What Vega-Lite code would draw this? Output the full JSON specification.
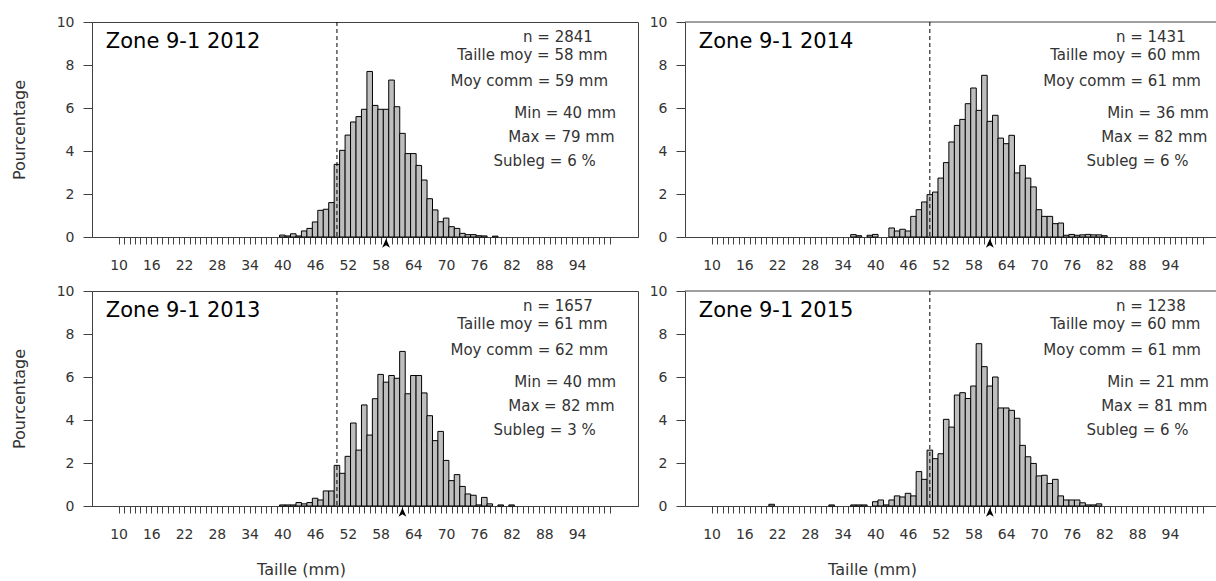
{
  "$schema": "https://vega.github.io/schema/vega-lite/v6.json",
  "padding": {"left": 10, "top": 14, "right": 0, "bottom": 0},
  "background": "white",
  "config": {
    "font": "DejaVu Sans",
    "view": {"stroke": "#404040", "strokeWidth": 1},
    "axis": {"domainColor": "#404040", "tickColor": "#404040", "labelColor": "#333333", "titleColor": "#333333", "labelFontSize": 14, "titleFontSize": 16, "titleFontWeight": "normal", "grid": false, "labelFont": "DejaVu Sans", "titleFont": "DejaVu Sans"},
    "text": {"font": "DejaVu Sans"}
  },
  "datasets": {
    "bars": [
      {"panel": "2012", "size": 40, "pct": 0.09}, {"panel": "2012", "size": 41, "pct": 0.05}, {"panel": "2012", "size": 42, "pct": 0.15}, {"panel": "2012", "size": 43, "pct": 0.05}, {"panel": "2012", "size": 44, "pct": 0.28}, {"panel": "2012", "size": 45, "pct": 0.4}, {"panel": "2012", "size": 46, "pct": 0.7}, {"panel": "2012", "size": 47, "pct": 1.24}, {"panel": "2012", "size": 48, "pct": 1.29}, {"panel": "2012", "size": 49, "pct": 1.6}, {"panel": "2012", "size": 50, "pct": 3.38}, {"panel": "2012", "size": 51, "pct": 4.03}, {"panel": "2012", "size": 52, "pct": 4.74}, {"panel": "2012", "size": 53, "pct": 5.35}, {"panel": "2012", "size": 54, "pct": 5.6}, {"panel": "2012", "size": 55, "pct": 5.94}, {"panel": "2012", "size": 56, "pct": 7.7}, {"panel": "2012", "size": 57, "pct": 6.12}, {"panel": "2012", "size": 58, "pct": 5.94}, {"panel": "2012", "size": 59, "pct": 5.94}, {"panel": "2012", "size": 60, "pct": 7.3}, {"panel": "2012", "size": 61, "pct": 6.06}, {"panel": "2012", "size": 62, "pct": 4.82}, {"panel": "2012", "size": 63, "pct": 3.88}, {"panel": "2012", "size": 64, "pct": 3.88}, {"panel": "2012", "size": 65, "pct": 3.33}, {"panel": "2012", "size": 66, "pct": 2.65}, {"panel": "2012", "size": 67, "pct": 1.78}, {"panel": "2012", "size": 68, "pct": 1.26}, {"panel": "2012", "size": 69, "pct": 0.71}, {"panel": "2012", "size": 70, "pct": 0.88}, {"panel": "2012", "size": 71, "pct": 0.48}, {"panel": "2012", "size": 72, "pct": 0.4}, {"panel": "2012", "size": 73, "pct": 0.17}, {"panel": "2012", "size": 74, "pct": 0.11}, {"panel": "2012", "size": 75, "pct": 0.11}, {"panel": "2012", "size": 76, "pct": 0.06}, {"panel": "2012", "size": 77, "pct": 0.05}, {"panel": "2012", "size": 79, "pct": 0.04},
      {"panel": "2014", "size": 36, "pct": 0.11}, {"panel": "2014", "size": 37, "pct": 0.06}, {"panel": "2014", "size": 39, "pct": 0.08}, {"panel": "2014", "size": 40, "pct": 0.12}, {"panel": "2014", "size": 43, "pct": 0.42}, {"panel": "2014", "size": 44, "pct": 0.28}, {"panel": "2014", "size": 45, "pct": 0.36}, {"panel": "2014", "size": 46, "pct": 0.28}, {"panel": "2014", "size": 47, "pct": 0.96}, {"panel": "2014", "size": 48, "pct": 1.27}, {"panel": "2014", "size": 49, "pct": 1.63}, {"panel": "2014", "size": 50, "pct": 1.97}, {"panel": "2014", "size": 51, "pct": 2.09}, {"panel": "2014", "size": 52, "pct": 2.74}, {"panel": "2014", "size": 53, "pct": 3.46}, {"panel": "2014", "size": 54, "pct": 4.42}, {"panel": "2014", "size": 55, "pct": 5.19}, {"panel": "2014", "size": 56, "pct": 5.47}, {"panel": "2014", "size": 57, "pct": 6.2}, {"panel": "2014", "size": 58, "pct": 6.93}, {"panel": "2014", "size": 59, "pct": 5.89}, {"panel": "2014", "size": 60, "pct": 7.52}, {"panel": "2014", "size": 61, "pct": 5.38}, {"panel": "2014", "size": 62, "pct": 5.66}, {"panel": "2014", "size": 63, "pct": 4.6}, {"panel": "2014", "size": 64, "pct": 4.34}, {"panel": "2014", "size": 65, "pct": 4.73}, {"panel": "2014", "size": 66, "pct": 2.98}, {"panel": "2014", "size": 67, "pct": 3.33}, {"panel": "2014", "size": 68, "pct": 2.74}, {"panel": "2014", "size": 69, "pct": 2.33}, {"panel": "2014", "size": 70, "pct": 1.27}, {"panel": "2014", "size": 71, "pct": 0.96}, {"panel": "2014", "size": 72, "pct": 0.96}, {"panel": "2014", "size": 73, "pct": 0.62}, {"panel": "2014", "size": 74, "pct": 0.65}, {"panel": "2014", "size": 75, "pct": 0.08}, {"panel": "2014", "size": 76, "pct": 0.12}, {"panel": "2014", "size": 77, "pct": 0.08}, {"panel": "2014", "size": 78, "pct": 0.1}, {"panel": "2014", "size": 79, "pct": 0.12}, {"panel": "2014", "size": 80, "pct": 0.1}, {"panel": "2014", "size": 81, "pct": 0.1}, {"panel": "2014", "size": 82, "pct": 0.06},
      {"panel": "2013", "size": 40, "pct": 0.05}, {"panel": "2013", "size": 41, "pct": 0.05}, {"panel": "2013", "size": 42, "pct": 0.05}, {"panel": "2013", "size": 43, "pct": 0.16}, {"panel": "2013", "size": 44, "pct": 0.1}, {"panel": "2013", "size": 45, "pct": 0.16}, {"panel": "2013", "size": 46, "pct": 0.36}, {"panel": "2013", "size": 47, "pct": 0.28}, {"panel": "2013", "size": 48, "pct": 0.7}, {"panel": "2013", "size": 49, "pct": 0.7}, {"panel": "2013", "size": 50, "pct": 1.89}, {"panel": "2013", "size": 51, "pct": 1.52}, {"panel": "2013", "size": 52, "pct": 2.31}, {"panel": "2013", "size": 53, "pct": 3.86}, {"panel": "2013", "size": 54, "pct": 2.6}, {"panel": "2013", "size": 55, "pct": 4.7}, {"panel": "2013", "size": 56, "pct": 3.3}, {"panel": "2013", "size": 57, "pct": 4.99}, {"panel": "2013", "size": 58, "pct": 6.12}, {"panel": "2013", "size": 59, "pct": 5.76}, {"panel": "2013", "size": 60, "pct": 6.07}, {"panel": "2013", "size": 61, "pct": 5.94}, {"panel": "2013", "size": 62, "pct": 7.19}, {"panel": "2013", "size": 63, "pct": 5.22}, {"panel": "2013", "size": 64, "pct": 6.07}, {"panel": "2013", "size": 65, "pct": 6.07}, {"panel": "2013", "size": 66, "pct": 5.26}, {"panel": "2013", "size": 67, "pct": 4.2}, {"panel": "2013", "size": 68, "pct": 3.04}, {"panel": "2013", "size": 69, "pct": 3.47}, {"panel": "2013", "size": 70, "pct": 2.12}, {"panel": "2013", "size": 71, "pct": 1.18}, {"panel": "2013", "size": 72, "pct": 1.46}, {"panel": "2013", "size": 73, "pct": 0.91}, {"panel": "2013", "size": 74, "pct": 0.56}, {"panel": "2013", "size": 75, "pct": 0.5}, {"panel": "2013", "size": 76, "pct": 0.05}, {"panel": "2013", "size": 77, "pct": 0.4}, {"panel": "2013", "size": 78, "pct": 0.1}, {"panel": "2013", "size": 80, "pct": 0.05}, {"panel": "2013", "size": 82, "pct": 0.05},
      {"panel": "2015", "size": 21, "pct": 0.08}, {"panel": "2015", "size": 32, "pct": 0.05}, {"panel": "2015", "size": 36, "pct": 0.05}, {"panel": "2015", "size": 37, "pct": 0.05}, {"panel": "2015", "size": 38, "pct": 0.05}, {"panel": "2015", "size": 40, "pct": 0.2}, {"panel": "2015", "size": 41, "pct": 0.28}, {"panel": "2015", "size": 42, "pct": 0.05}, {"panel": "2015", "size": 43, "pct": 0.28}, {"panel": "2015", "size": 44, "pct": 0.47}, {"panel": "2015", "size": 45, "pct": 0.42}, {"panel": "2015", "size": 46, "pct": 0.59}, {"panel": "2015", "size": 47, "pct": 0.47}, {"panel": "2015", "size": 48, "pct": 1.6}, {"panel": "2015", "size": 49, "pct": 1.24}, {"panel": "2015", "size": 50, "pct": 2.6}, {"panel": "2015", "size": 51, "pct": 2.2}, {"panel": "2015", "size": 52, "pct": 2.43}, {"panel": "2015", "size": 53, "pct": 4.03}, {"panel": "2015", "size": 54, "pct": 3.67}, {"panel": "2015", "size": 55, "pct": 5.16}, {"panel": "2015", "size": 56, "pct": 5.27}, {"panel": "2015", "size": 57, "pct": 5.0}, {"panel": "2015", "size": 58, "pct": 5.58}, {"panel": "2015", "size": 59, "pct": 7.55}, {"panel": "2015", "size": 60, "pct": 6.48}, {"panel": "2015", "size": 61, "pct": 5.58}, {"panel": "2015", "size": 62, "pct": 6.0}, {"panel": "2015", "size": 63, "pct": 4.56}, {"panel": "2015", "size": 64, "pct": 4.56}, {"panel": "2015", "size": 65, "pct": 4.45}, {"panel": "2015", "size": 66, "pct": 4.08}, {"panel": "2015", "size": 67, "pct": 2.82}, {"panel": "2015", "size": 68, "pct": 2.29}, {"panel": "2015", "size": 69, "pct": 1.98}, {"panel": "2015", "size": 70, "pct": 1.4}, {"panel": "2015", "size": 71, "pct": 1.43}, {"panel": "2015", "size": 72, "pct": 1.05}, {"panel": "2015", "size": 73, "pct": 1.24}, {"panel": "2015", "size": 74, "pct": 0.47}, {"panel": "2015", "size": 75, "pct": 0.28}, {"panel": "2015", "size": 76, "pct": 0.28}, {"panel": "2015", "size": 77, "pct": 0.28}, {"panel": "2015", "size": 78, "pct": 0.15}, {"panel": "2015", "size": 79, "pct": 0.05}, {"panel": "2015", "size": 80, "pct": 0.05}, {"panel": "2015", "size": 81, "pct": 0.1}
    ],
    "stats": [
      {"panel": "2012", "stat": "zone", "label": "Zone 9-1 2012"}, {"panel": "2012", "stat": "n", "label": "n = 2841"}, {"panel": "2012", "stat": "taille", "label": "Taille moy = 58 mm"}, {"panel": "2012", "stat": "moy", "label": "Moy comm = 59 mm"}, {"panel": "2012", "stat": "min", "label": "Min = 40 mm"}, {"panel": "2012", "stat": "max", "label": "Max = 79 mm"}, {"panel": "2012", "stat": "subleg", "label": "Subleg = 6 %"},
      {"panel": "2014", "stat": "zone", "label": "Zone 9-1 2014"}, {"panel": "2014", "stat": "n", "label": "n = 1431"}, {"panel": "2014", "stat": "taille", "label": "Taille moy = 60 mm"}, {"panel": "2014", "stat": "moy", "label": "Moy comm = 61 mm"}, {"panel": "2014", "stat": "min", "label": "Min = 36 mm"}, {"panel": "2014", "stat": "max", "label": "Max = 82 mm"}, {"panel": "2014", "stat": "subleg", "label": "Subleg = 6 %"},
      {"panel": "2013", "stat": "zone", "label": "Zone 9-1 2013"}, {"panel": "2013", "stat": "n", "label": "n = 1657"}, {"panel": "2013", "stat": "taille", "label": "Taille moy = 61 mm"}, {"panel": "2013", "stat": "moy", "label": "Moy comm = 62 mm"}, {"panel": "2013", "stat": "min", "label": "Min = 40 mm"}, {"panel": "2013", "stat": "max", "label": "Max = 82 mm"}, {"panel": "2013", "stat": "subleg", "label": "Subleg = 3 %"},
      {"panel": "2015", "stat": "zone", "label": "Zone 9-1 2015"}, {"panel": "2015", "stat": "n", "label": "n = 1238"}, {"panel": "2015", "stat": "taille", "label": "Taille moy = 60 mm"}, {"panel": "2015", "stat": "moy", "label": "Moy comm = 61 mm"}, {"panel": "2015", "stat": "min", "label": "Min = 21 mm"}, {"panel": "2015", "stat": "max", "label": "Max = 81 mm"}, {"panel": "2015", "stat": "subleg", "label": "Subleg = 6 %"}
    ],
    "arrows": [
      {"panel": "2012", "moy_comm": 59, "legal": 50}, {"panel": "2014", "moy_comm": 61, "legal": 50}, {"panel": "2013", "moy_comm": 62, "legal": 50}, {"panel": "2015", "moy_comm": 61, "legal": 50}
    ]
  },
  "columns": 2,
  "spacing": {"row": 10, "column": 10},
  "concat": [
    {
      "width": 546, "height": 215,
      "resolve": {"axis": {"x": "independent", "y": "independent"}},
      "layer": [
        {"data": {"name": "bars"}, "transform": [{"filter": "datum.panel == '2012'"}],
         "mark": {"type": "bar", "width": 5.56, "fill": "#bebebe", "stroke": "#000000", "strokeWidth": 1},
         "encoding": {
           "x": {"field": "size", "type": "quantitative", "scale": {"domain": [6.04, 104.24], "nice": false, "zero": false},
                 "axis": {"title": null, "values": [10,11,12,13,14,15,16,17,18,19,20,21,22,23,24,25,26,27,28,29,30,31,32,33,34,35,36,37,38,39,40,41,42,43,44,45,46,47,48,49,50,51,52,53,54,55,56,57,58,59,60,61,62,63,64,65,66,67,68,69,70,71,72,73,74,75,76,77,78,79,80,81,82,83,84,85,86,87,88,89,90,91,92,93,94,95,96,97,98,99,100], "ticks": true, "tickSize": 7, "labelPadding": 14, "labelOverlap": false, "labelFlush": false, "labelAlign": "center", "labelExpr": "datum.value <= 94 && (datum.value - 10) % 6 == 0 ? datum.label : ''"}},
           "y": {"field": "pct", "type": "quantitative", "scale": {"domain": [0, 10], "nice": false},
                 "axis": {"title": "Pourcentage", "values": [0,2,4,6,8,10], "ticks": true, "tickSize": 9, "labelPadding": 9, "titlePadding": 29}}
         }},
        {"data": {"name": "arrows"}, "transform": [{"filter": "datum.panel == '2012'"}],
         "mark": {"type": "rule", "color": "#000000", "strokeDash": [4, 3], "strokeWidth": 1}, "encoding": {"x": {"field": "legal", "type": "quantitative", "axis": null}}},
        {"data": {"name": "arrows"}, "transform": [{"filter": "datum.panel == '2012'"}],
         "mark": {"type": "point", "shape": "M0,-1L0.75,0.7L0,0.25L-0.75,0.7Z", "filled": true, "color": "#000000", "size": 110, "yOffset": 7, "opacity": 1},
         "encoding": {"x": {"field": "moy_comm", "type": "quantitative", "axis": null}, "y": {"datum": 0, "axis": null}}},
        {"data": {"name": "stats"}, "transform": [{"filter": "datum.panel == '2012' && datum.stat == 'zone'"}], "mark": {"type": "text", "align": "left", "baseline": "alphabetic", "fontSize": 21, "color": "#000000"}, "encoding": {"x": {"datum": 7.66, "axis": null}, "y": {"datum": 8.79, "axis": null}, "text": {"field": "label"}}},
        {"data": {"name": "stats"}, "transform": [{"filter": "datum.panel == '2012' && datum.stat == 'n'"}], "mark": {"type": "text", "align": "left", "baseline": "alphabetic", "fontSize": 15, "color": "#333333"}, "encoding": {"x": {"datum": 84.1, "axis": null}, "y": {"datum": 9.08, "axis": null}, "text": {"field": "label"}}},
        {"data": {"name": "stats"}, "transform": [{"filter": "datum.panel == '2012' && datum.stat == 'taille'"}], "mark": {"type": "text", "align": "left", "baseline": "alphabetic", "fontSize": 15, "color": "#333333"}, "encoding": {"x": {"datum": 72.05, "axis": null}, "y": {"datum": 8.21, "axis": null}, "text": {"field": "label"}}},
        {"data": {"name": "stats"}, "transform": [{"filter": "datum.panel == '2012' && datum.stat == 'moy'"}], "mark": {"type": "text", "align": "left", "baseline": "alphabetic", "fontSize": 15, "color": "#333333"}, "encoding": {"x": {"datum": 70.8, "axis": null}, "y": {"datum": 7.02, "axis": null}, "text": {"field": "label"}}},
        {"data": {"name": "stats"}, "transform": [{"filter": "datum.panel == '2012' && datum.stat == 'min'"}], "mark": {"type": "text", "align": "left", "baseline": "alphabetic", "fontSize": 15, "color": "#333333"}, "encoding": {"x": {"datum": 82.5, "axis": null}, "y": {"datum": 5.54, "axis": null}, "text": {"field": "label"}}},
        {"data": {"name": "stats"}, "transform": [{"filter": "datum.panel == '2012' && datum.stat == 'max'"}], "mark": {"type": "text", "align": "left", "baseline": "alphabetic", "fontSize": 15, "color": "#333333"}, "encoding": {"x": {"datum": 81.4, "axis": null}, "y": {"datum": 4.42, "axis": null}, "text": {"field": "label"}}},
        {"data": {"name": "stats"}, "transform": [{"filter": "datum.panel == '2012' && datum.stat == 'subleg'"}], "mark": {"type": "text", "align": "left", "baseline": "alphabetic", "fontSize": 15, "color": "#333333"}, "encoding": {"x": {"datum": 78.7, "axis": null}, "y": {"datum": 3.29, "axis": null}, "text": {"field": "label"}}}
      ]
    },
    {
      "width": 533, "height": 215,
      "view": {"stroke": null},
      "resolve": {"axis": {"x": "independent", "y": "independent"}},
      "layer": [
        {"data": {"name": "bars"}, "transform": [{"filter": "datum.panel == '2014'"}],
         "mark": {"type": "bar", "width": 5.56, "fill": "#bebebe", "stroke": "#000000", "strokeWidth": 1},
         "encoding": {
           "x": {"field": "size", "type": "quantitative", "scale": {"domain": [6.04, 101.9], "nice": false, "zero": false},
                 "axis": {"title": null, "values": [10,11,12,13,14,15,16,17,18,19,20,21,22,23,24,25,26,27,28,29,30,31,32,33,34,35,36,37,38,39,40,41,42,43,44,45,46,47,48,49,50,51,52,53,54,55,56,57,58,59,60,61,62,63,64,65,66,67,68,69,70,71,72,73,74,75,76,77,78,79,80,81,82,83,84,85,86,87,88,89,90,91,92,93,94,95,96,97,98,99,100], "ticks": true, "tickSize": 7, "labelPadding": 14, "labelOverlap": false, "labelFlush": false, "labelAlign": "center", "labelExpr": "datum.value <= 94 && (datum.value - 10) % 6 == 0 ? datum.label : ''"}},
           "y": {"field": "pct", "type": "quantitative", "scale": {"domain": [0, 10], "nice": false},
                 "axis": {"title": null, "values": [0,2,4,6,8,10], "ticks": true, "tickSize": 9, "labelPadding": 9}}
         }},
        {"data": {"name": "arrows"}, "transform": [{"filter": "datum.panel == '2014'"}],
         "mark": {"type": "rule", "color": "#404040", "strokeWidth": 1}, "encoding": {"y": {"datum": 10, "axis": null}}},
        {"data": {"name": "arrows"}, "transform": [{"filter": "datum.panel == '2014'"}],
         "mark": {"type": "rule", "color": "#000000", "strokeDash": [4, 3], "strokeWidth": 1}, "encoding": {"x": {"field": "legal", "type": "quantitative", "axis": null}}},
        {"data": {"name": "arrows"}, "transform": [{"filter": "datum.panel == '2014'"}],
         "mark": {"type": "point", "shape": "M0,-1L0.75,0.7L0,0.25L-0.75,0.7Z", "filled": true, "color": "#000000", "size": 110, "yOffset": 7, "opacity": 1},
         "encoding": {"x": {"field": "moy_comm", "type": "quantitative", "axis": null}, "y": {"datum": 0, "axis": null}}},
        {"data": {"name": "stats"}, "transform": [{"filter": "datum.panel == '2014' && datum.stat == 'zone'"}], "mark": {"type": "text", "align": "left", "baseline": "alphabetic", "fontSize": 21, "color": "#000000"}, "encoding": {"x": {"datum": 7.66, "axis": null}, "y": {"datum": 8.79, "axis": null}, "text": {"field": "label"}}},
        {"data": {"name": "stats"}, "transform": [{"filter": "datum.panel == '2014' && datum.stat == 'n'"}], "mark": {"type": "text", "align": "left", "baseline": "alphabetic", "fontSize": 15, "color": "#333333"}, "encoding": {"x": {"datum": 84.1, "axis": null}, "y": {"datum": 9.08, "axis": null}, "text": {"field": "label"}}},
        {"data": {"name": "stats"}, "transform": [{"filter": "datum.panel == '2014' && datum.stat == 'taille'"}], "mark": {"type": "text", "align": "left", "baseline": "alphabetic", "fontSize": 15, "color": "#333333"}, "encoding": {"x": {"datum": 72.05, "axis": null}, "y": {"datum": 8.21, "axis": null}, "text": {"field": "label"}}},
        {"data": {"name": "stats"}, "transform": [{"filter": "datum.panel == '2014' && datum.stat == 'moy'"}], "mark": {"type": "text", "align": "left", "baseline": "alphabetic", "fontSize": 15, "color": "#333333"}, "encoding": {"x": {"datum": 70.8, "axis": null}, "y": {"datum": 7.02, "axis": null}, "text": {"field": "label"}}},
        {"data": {"name": "stats"}, "transform": [{"filter": "datum.panel == '2014' && datum.stat == 'min'"}], "mark": {"type": "text", "align": "left", "baseline": "alphabetic", "fontSize": 15, "color": "#333333"}, "encoding": {"x": {"datum": 82.5, "axis": null}, "y": {"datum": 5.54, "axis": null}, "text": {"field": "label"}}},
        {"data": {"name": "stats"}, "transform": [{"filter": "datum.panel == '2014' && datum.stat == 'max'"}], "mark": {"type": "text", "align": "left", "baseline": "alphabetic", "fontSize": 15, "color": "#333333"}, "encoding": {"x": {"datum": 81.4, "axis": null}, "y": {"datum": 4.42, "axis": null}, "text": {"field": "label"}}},
        {"data": {"name": "stats"}, "transform": [{"filter": "datum.panel == '2014' && datum.stat == 'subleg'"}], "mark": {"type": "text", "align": "left", "baseline": "alphabetic", "fontSize": 15, "color": "#333333"}, "encoding": {"x": {"datum": 78.7, "axis": null}, "y": {"datum": 3.29, "axis": null}, "text": {"field": "label"}}}
      ]
    },
    {
      "width": 546, "height": 215,
      "resolve": {"axis": {"x": "independent", "y": "independent"}},
      "layer": [
        {"data": {"name": "bars"}, "transform": [{"filter": "datum.panel == '2013'"}],
         "mark": {"type": "bar", "width": 5.56, "fill": "#bebebe", "stroke": "#000000", "strokeWidth": 1},
         "encoding": {
           "x": {"field": "size", "type": "quantitative", "scale": {"domain": [6.04, 104.24], "nice": false, "zero": false},
                 "axis": {"title": "Taille (mm)", "titleX": 209, "titleAnchor": "middle", "titlePadding": 20, "values": [10,11,12,13,14,15,16,17,18,19,20,21,22,23,24,25,26,27,28,29,30,31,32,33,34,35,36,37,38,39,40,41,42,43,44,45,46,47,48,49,50,51,52,53,54,55,56,57,58,59,60,61,62,63,64,65,66,67,68,69,70,71,72,73,74,75,76,77,78,79,80,81,82,83,84,85,86,87,88,89,90,91,92,93,94,95,96,97,98,99,100], "ticks": true, "tickSize": 7, "labelPadding": 14, "labelOverlap": false, "labelFlush": false, "labelAlign": "center", "labelExpr": "datum.value <= 94 && (datum.value - 10) % 6 == 0 ? datum.label : ''"}},
           "y": {"field": "pct", "type": "quantitative", "scale": {"domain": [0, 10], "nice": false},
                 "axis": {"title": "Pourcentage", "values": [0,2,4,6,8,10], "ticks": true, "tickSize": 9, "labelPadding": 9, "titlePadding": 29}}
         }},
        {"data": {"name": "arrows"}, "transform": [{"filter": "datum.panel == '2013'"}],
         "mark": {"type": "rule", "color": "#000000", "strokeDash": [4, 3], "strokeWidth": 1}, "encoding": {"x": {"field": "legal", "type": "quantitative", "axis": null}}},
        {"data": {"name": "arrows"}, "transform": [{"filter": "datum.panel == '2013'"}],
         "mark": {"type": "point", "shape": "M0,-1L0.75,0.7L0,0.25L-0.75,0.7Z", "filled": true, "color": "#000000", "size": 110, "yOffset": 7, "opacity": 1},
         "encoding": {"x": {"field": "moy_comm", "type": "quantitative", "axis": null}, "y": {"datum": 0, "axis": null}}},
        {"data": {"name": "stats"}, "transform": [{"filter": "datum.panel == '2013' && datum.stat == 'zone'"}], "mark": {"type": "text", "align": "left", "baseline": "alphabetic", "fontSize": 21, "color": "#000000"}, "encoding": {"x": {"datum": 7.66, "axis": null}, "y": {"datum": 8.79, "axis": null}, "text": {"field": "label"}}},
        {"data": {"name": "stats"}, "transform": [{"filter": "datum.panel == '2013' && datum.stat == 'n'"}], "mark": {"type": "text", "align": "left", "baseline": "alphabetic", "fontSize": 15, "color": "#333333"}, "encoding": {"x": {"datum": 84.1, "axis": null}, "y": {"datum": 9.08, "axis": null}, "text": {"field": "label"}}},
        {"data": {"name": "stats"}, "transform": [{"filter": "datum.panel == '2013' && datum.stat == 'taille'"}], "mark": {"type": "text", "align": "left", "baseline": "alphabetic", "fontSize": 15, "color": "#333333"}, "encoding": {"x": {"datum": 72.05, "axis": null}, "y": {"datum": 8.21, "axis": null}, "text": {"field": "label"}}},
        {"data": {"name": "stats"}, "transform": [{"filter": "datum.panel == '2013' && datum.stat == 'moy'"}], "mark": {"type": "text", "align": "left", "baseline": "alphabetic", "fontSize": 15, "color": "#333333"}, "encoding": {"x": {"datum": 70.8, "axis": null}, "y": {"datum": 7.02, "axis": null}, "text": {"field": "label"}}},
        {"data": {"name": "stats"}, "transform": [{"filter": "datum.panel == '2013' && datum.stat == 'min'"}], "mark": {"type": "text", "align": "left", "baseline": "alphabetic", "fontSize": 15, "color": "#333333"}, "encoding": {"x": {"datum": 82.5, "axis": null}, "y": {"datum": 5.54, "axis": null}, "text": {"field": "label"}}},
        {"data": {"name": "stats"}, "transform": [{"filter": "datum.panel == '2013' && datum.stat == 'max'"}], "mark": {"type": "text", "align": "left", "baseline": "alphabetic", "fontSize": 15, "color": "#333333"}, "encoding": {"x": {"datum": 81.4, "axis": null}, "y": {"datum": 4.42, "axis": null}, "text": {"field": "label"}}},
        {"data": {"name": "stats"}, "transform": [{"filter": "datum.panel == '2013' && datum.stat == 'subleg'"}], "mark": {"type": "text", "align": "left", "baseline": "alphabetic", "fontSize": 15, "color": "#333333"}, "encoding": {"x": {"datum": 78.7, "axis": null}, "y": {"datum": 3.29, "axis": null}, "text": {"field": "label"}}}
      ]
    },
    {
      "width": 533, "height": 215,
      "view": {"stroke": null},
      "resolve": {"axis": {"x": "independent", "y": "independent"}},
      "layer": [
        {"data": {"name": "bars"}, "transform": [{"filter": "datum.panel == '2015'"}],
         "mark": {"type": "bar", "width": 5.56, "fill": "#bebebe", "stroke": "#000000", "strokeWidth": 1},
         "encoding": {
           "x": {"field": "size", "type": "quantitative", "scale": {"domain": [6.04, 101.9], "nice": false, "zero": false},
                 "axis": {"title": "Taille (mm)", "titleX": 187, "titleAnchor": "middle", "titlePadding": 20, "values": [10,11,12,13,14,15,16,17,18,19,20,21,22,23,24,25,26,27,28,29,30,31,32,33,34,35,36,37,38,39,40,41,42,43,44,45,46,47,48,49,50,51,52,53,54,55,56,57,58,59,60,61,62,63,64,65,66,67,68,69,70,71,72,73,74,75,76,77,78,79,80,81,82,83,84,85,86,87,88,89,90,91,92,93,94,95,96,97,98,99,100], "ticks": true, "tickSize": 7, "labelPadding": 14, "labelOverlap": false, "labelFlush": false, "labelAlign": "center", "labelExpr": "datum.value <= 94 && (datum.value - 10) % 6 == 0 ? datum.label : ''"}},
           "y": {"field": "pct", "type": "quantitative", "scale": {"domain": [0, 10], "nice": false},
                 "axis": {"title": null, "values": [0,2,4,6,8,10], "ticks": true, "tickSize": 9, "labelPadding": 9}}
         }},
        {"data": {"name": "arrows"}, "transform": [{"filter": "datum.panel == '2015'"}],
         "mark": {"type": "rule", "color": "#404040", "strokeWidth": 1}, "encoding": {"y": {"datum": 10, "axis": null}}},
        {"data": {"name": "arrows"}, "transform": [{"filter": "datum.panel == '2015'"}],
         "mark": {"type": "rule", "color": "#000000", "strokeDash": [4, 3], "strokeWidth": 1}, "encoding": {"x": {"field": "legal", "type": "quantitative", "axis": null}}},
        {"data": {"name": "arrows"}, "transform": [{"filter": "datum.panel == '2015'"}],
         "mark": {"type": "point", "shape": "M0,-1L0.75,0.7L0,0.25L-0.75,0.7Z", "filled": true, "color": "#000000", "size": 110, "yOffset": 7, "opacity": 1},
         "encoding": {"x": {"field": "moy_comm", "type": "quantitative", "axis": null}, "y": {"datum": 0, "axis": null}}},
        {"data": {"name": "stats"}, "transform": [{"filter": "datum.panel == '2015' && datum.stat == 'zone'"}], "mark": {"type": "text", "align": "left", "baseline": "alphabetic", "fontSize": 21, "color": "#000000"}, "encoding": {"x": {"datum": 7.66, "axis": null}, "y": {"datum": 8.79, "axis": null}, "text": {"field": "label"}}},
        {"data": {"name": "stats"}, "transform": [{"filter": "datum.panel == '2015' && datum.stat == 'n'"}], "mark": {"type": "text", "align": "left", "baseline": "alphabetic", "fontSize": 15, "color": "#333333"}, "encoding": {"x": {"datum": 84.1, "axis": null}, "y": {"datum": 9.08, "axis": null}, "text": {"field": "label"}}},
        {"data": {"name": "stats"}, "transform": [{"filter": "datum.panel == '2015' && datum.stat == 'taille'"}], "mark": {"type": "text", "align": "left", "baseline": "alphabetic", "fontSize": 15, "color": "#333333"}, "encoding": {"x": {"datum": 72.05, "axis": null}, "y": {"datum": 8.21, "axis": null}, "text": {"field": "label"}}},
        {"data": {"name": "stats"}, "transform": [{"filter": "datum.panel == '2015' && datum.stat == 'moy'"}], "mark": {"type": "text", "align": "left", "baseline": "alphabetic", "fontSize": 15, "color": "#333333"}, "encoding": {"x": {"datum": 70.8, "axis": null}, "y": {"datum": 7.02, "axis": null}, "text": {"field": "label"}}},
        {"data": {"name": "stats"}, "transform": [{"filter": "datum.panel == '2015' && datum.stat == 'min'"}], "mark": {"type": "text", "align": "left", "baseline": "alphabetic", "fontSize": 15, "color": "#333333"}, "encoding": {"x": {"datum": 82.5, "axis": null}, "y": {"datum": 5.54, "axis": null}, "text": {"field": "label"}}},
        {"data": {"name": "stats"}, "transform": [{"filter": "datum.panel == '2015' && datum.stat == 'max'"}], "mark": {"type": "text", "align": "left", "baseline": "alphabetic", "fontSize": 15, "color": "#333333"}, "encoding": {"x": {"datum": 81.4, "axis": null}, "y": {"datum": 4.42, "axis": null}, "text": {"field": "label"}}},
        {"data": {"name": "stats"}, "transform": [{"filter": "datum.panel == '2015' && datum.stat == 'subleg'"}], "mark": {"type": "text", "align": "left", "baseline": "alphabetic", "fontSize": 15, "color": "#333333"}, "encoding": {"x": {"datum": 78.7, "axis": null}, "y": {"datum": 3.29, "axis": null}, "text": {"field": "label"}}}
      ]
    }
  ]
}
